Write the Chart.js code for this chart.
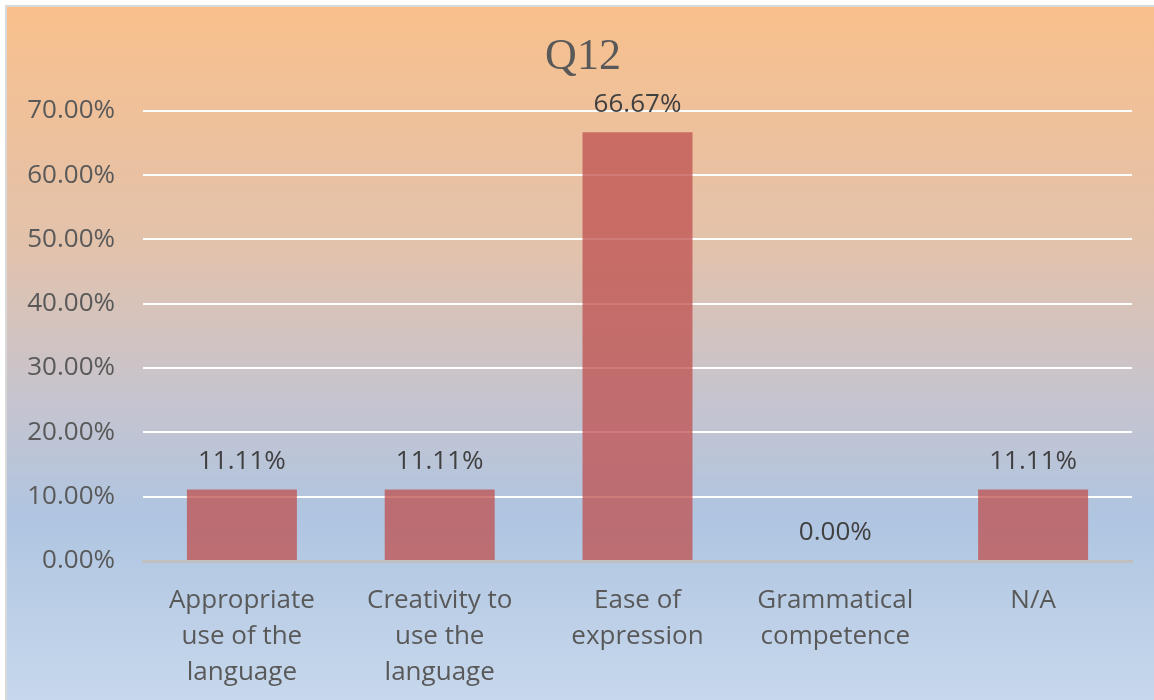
<!DOCTYPE html>
<html>
<head>
<meta charset="utf-8">
<script src="https://cdn.jsdelivr.net/npm/chart.js"></script>
<style>
  html, body { margin: 0; padding: 0; background: #ffffff; }
  #wrap { width: 1154px; height: 700px; position: relative; }
</style>
</head>
<body>
<div id="wrap"><canvas id="chart" width="1154" height="700"></canvas></div>
<script>
const categories = [
  ["Appropriate", "use of the", "language"],
  ["Creativity to", "use the", "language"],
  ["Ease of", "expression"],
  ["Grammatical", "competence"],
  ["N/A"]
];
const shares = [11.11, 11.11, 66.67, 0.00, 11.11];
const yTicks = [0, 10, 20, 30, 40, 50, 60, 70];

const sans = "'Open Sans', 'Noto Sans', sans-serif";

// gradient panel with a thin grey frame on the top and left
const panelBg = {
  id: 'panelBg',
  afterLayout(chart) {
    // nudge the title box so "Q12" sits a little right of the canvas centre
    if (chart.titleBlock) chart.titleBlock.left = 34;
  },
  beforeDraw(chart) {
    const { ctx, width, height } = chart;
    ctx.save();
    ctx.fillStyle = '#ffffff';
    ctx.fillRect(0, 0, width, height);
    const g = ctx.createLinearGradient(0, 7, 0, height);
    g.addColorStop(0, '#F9C08C');
    g.addColorStop(0.35, '#E2C2AC');
    g.addColorStop(0.58, '#C4C4D0');
    g.addColorStop(0.74, '#AFC5E1');
    g.addColorStop(1, '#C7D8EC');
    ctx.fillStyle = g;
    ctx.fillRect(7, 7, width - 7, height - 7);
    ctx.fillStyle = '#D9D9D9';
    ctx.fillRect(5, 5, width - 5, 2);
    ctx.fillRect(5, 5, 2, height - 5);
    ctx.restore();
  }
};

// value labels above each bar
const barLabels = {
  id: 'barLabels',
  afterDatasetsDraw(chart) {
    const { ctx } = chart;
    const meta = chart.getDatasetMeta(0);
    ctx.save();
    ctx.font = '26px ' + sans;
    ctx.fillStyle = '#404040';
    ctx.textAlign = 'center';
    ctx.textBaseline = 'middle';
    meta.data.forEach((bar, i) => {
      ctx.fillText(shares[i].toFixed(2) + '%', bar.x, bar.y - 28);
    });
    ctx.restore();
  }
};

new Chart(document.getElementById('chart'), {
  type: 'bar',
  data: {
    labels: categories,
    datasets: [{
      data: shares,
      backgroundColor: 'rgba(190, 82, 80, 0.76)',
      borderWidth: 0,
      categoryPercentage: 0.556,
      barPercentage: 1
    }]
  },
  options: {
    responsive: false,
    animation: false,
    layout: { padding: { left: 7, right: 22, top: 0, bottom: 0 } },
    plugins: {
      legend: { display: false },
      tooltip: { enabled: false },
      title: {
        display: true,
        text: 'Q12',
        color: '#595959',
        font: { family: "'Liberation Serif', 'DejaVu Serif', serif", size: 44, weight: 'normal', lineHeight: 1.2 },
        padding: { top: 31, bottom: 27 }
      }
    },
    scales: {
      x: {
        grid: { display: false, drawTicks: false },
        border: { display: true, color: '#BFBFBF', width: 3 },
        ticks: {
          color: '#595959',
          font: { family: sans, size: 26, lineHeight: 1.38 },
          padding: 22,
          maxRotation: 0,
          autoSkip: false
        },
        afterFit(s) { s.height = 139; }
      },
      y: {
        min: 0,
        max: 70,
        afterBuildTicks(s) { s.ticks = yTicks.map(v => ({ value: v })); },
        grid: { color: '#FFFFFF', lineWidth: 2, drawTicks: false },
        border: { display: false },
        ticks: {
          color: '#595959',
          font: { family: sans, size: 26 },
          padding: 28,
          callback: v => v.toFixed(2) + '%'
        },
        afterFit(s) { s.width = 136; }
      }
    }
  },
  plugins: [panelBg, barLabels]
});
</script>
</body>
</html>
